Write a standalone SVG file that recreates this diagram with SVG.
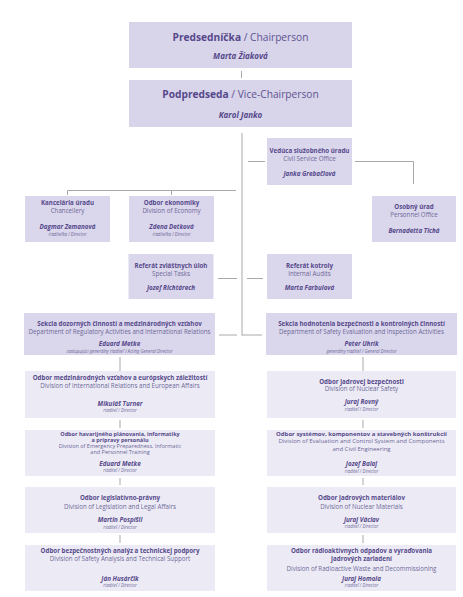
<svg xmlns="http://www.w3.org/2000/svg" width="463" height="597" viewBox="0 0 463 597">
<style>
text{font-family:"Open Sans","Noto Sans",sans-serif;text-anchor:middle;fill:#5e5391}
.bt{fill:#d8d4ea}
.bm{fill:#dad6eb}
.bc{fill:#ecebf5}
.h1{font-size:10.2px}
.b{font-weight:700;fill:#56498b}
.n1{font-size:8px;font-weight:700;font-style:italic;fill:#56498b}
.hb{font-size:6.2px;font-weight:700;fill:#56498b}
.hr{font-size:6.2px;fill:#6d6899}
.tb{font-size:5.5px;font-weight:700;fill:#56498b}
.tr{font-size:5.5px;fill:#6d6899}
.sb{font-size:6px;font-weight:700;fill:#56498b}
.sr{font-size:6px;fill:#6d6899}
.nm{font-size:6.3px;font-weight:700;font-style:italic;fill:#56498b}
.sm{font-size:4.4px;font-style:italic;fill:#6d6899}
#connectors line,#connectors path{stroke:#a9a9ad;stroke-width:1;fill:none}
</style>
<rect width="463" height="597" fill="#ffffff"/>
<g id="connectors">
<line x1="241.5" y1="71" x2="241.5" y2="78"/>
<line x1="242" y1="133" x2="242" y2="335.5"/>
<line x1="248" y1="161.5" x2="265" y2="161.5"/>
<path d="M355 161.5H413.5V184"/>
<path d="M67.5 195V190.5H236"/>
<line x1="171.5" y1="190.5" x2="171.5" y2="195"/>
<line x1="218" y1="278.5" x2="237" y2="278.5"/>
<line x1="247" y1="278.5" x2="263" y2="278.5"/>
<line x1="219" y1="335" x2="237" y2="335"/>
<line x1="242" y1="335" x2="262" y2="335"/>
<line x1="120" y1="357" x2="120" y2="371"/>
<line x1="120" y1="420" x2="120" y2="428"/>
<line x1="120" y1="478" x2="120" y2="485"/>
<line x1="120" y1="535" x2="120" y2="543"/>
<line x1="363" y1="357" x2="363" y2="371"/>
<line x1="363" y1="420" x2="363" y2="428"/>
<line x1="363" y1="478" x2="363" y2="485"/>
<line x1="363" y1="535" x2="363" y2="543"/>
</g>
<g id="chair">
<rect class="bt" x="129" y="22" width="223" height="46"/>
<text class="h1" x="240.5" y="41"><tspan class="b">Predsedníčka</tspan> / Chairperson</text>
<text class="n1" x="240.5" y="58.5">Marta Žiaková</text>
</g>
<g id="vice">
<rect class="bt" x="129" y="80" width="223" height="47"/>
<text class="h1" x="240.5" y="98"><tspan class="b">Podpredseda</tspan> / Vice-Chairperson</text>
<text class="n1" x="240.5" y="117.5">Karol Janko</text>
</g>
<g id="civil">
<rect class="bm" x="267" y="138" width="85" height="47"/>
<text class="hb" x="309.5" y="152.5">Vedúca služobného úradu</text>
<text class="hr" x="309.5" y="161">Civil Service Office</text>
<text class="nm" x="309.5" y="176">Janka Grebačiová</text>
</g>
<g id="chancellery">
<rect class="bm" x="25" y="196" width="85" height="46"/>
<text class="hb" x="67.5" y="205">Kancelária úradu</text>
<text class="hr" x="67.5" y="213.3">Chancellery</text>
<text class="nm" x="67.5" y="228.5">Dagmar Zemanová</text>
<text class="sm" x="67.5" y="236">riaditeľka / Director</text>
</g>
<g id="economy">
<rect class="bm" x="129" y="196" width="85" height="46"/>
<text class="hb" x="171.5" y="205">Odbor ekonomiky</text>
<text class="hr" x="171.5" y="213.3">Division of Economy</text>
<text class="nm" x="171.5" y="228.5">Zdena Detková</text>
<text class="sm" x="171.5" y="236">riaditeľka / Director</text>
</g>
<g id="personnel">
<rect class="bm" x="372" y="196" width="84" height="46"/>
<text class="hb" x="414" y="209">Osobný úrad</text>
<text class="hr" x="414" y="216.7">Personnel Office</text>
<text class="nm" x="414" y="232.5">Bernadetta Tichá</text>
</g>
<g id="special">
<rect class="bm" x="128.5" y="254" width="85" height="45"/>
<text class="hb" x="171" y="268.3">Referát zvláštnych úloh</text>
<text class="hr" x="171" y="275.5">Special Tasks</text>
<text class="nm" x="171" y="290">Jozef Richtárech</text>
</g>
<g id="audits">
<rect class="bm" x="267" y="254" width="85" height="45"/>
<text class="hb" x="309.5" y="268.3">Referát kotroly</text>
<text class="hr" x="309.5" y="275.5">Internal Audits</text>
<text class="nm" x="309.5" y="290">Marta Farbulová</text>
</g>
<g id="dept-left">
<rect class="bm" x="24" y="313" width="191" height="42"/>
<text class="hb" x="119.5" y="325.7">Sekcia dozorných činností a medzinárodných vzťahov</text>
<text class="hr" x="119.5" y="334">Department of Regulatory Activities and International Relations</text>
<text class="nm" x="119.5" y="346">Eduard Metke</text>
<text class="sm" x="119.5" y="352.7">zastupujúci generálny riaditeľ / Acting General Director</text>
</g>
<g id="dept-right">
<rect class="bm" x="266" y="313" width="191" height="42"/>
<text class="hb" x="361.5" y="325.7">Sekcia hodnotenia bezpečnosti a kontrolných činností</text>
<text class="hr" x="361.5" y="334">Department of Safety Evaluation and Inspection Activities</text>
<text class="nm" x="361.5" y="346">Peter Uhrík</text>
<text class="sm" x="361.5" y="352.7">generálny riaditeľ / General Director</text>
</g>
<g id="div-intl">
<rect class="bc" x="25" y="371" width="190" height="47"/>
<text class="hb" x="120" y="380">Odbor medzinárodných vzťahov a európskych záležitostí</text>
<text class="hr" x="120" y="388">Division of International Relations and European Affairs</text>
<text class="nm" x="120" y="406">Mikuláš Turner</text>
<text class="sm" x="120" y="412">riaditeľ / Director</text>
</g>
<g id="div-emergency">
<rect class="bc" x="25" y="430" width="190" height="46"/>
<text class="tb" x="120" y="435.6">Odbor havarijného plánovania, informatiky</text>
<text class="tb" x="120" y="441.6">a prípravy personálu</text>
<text class="tr" x="120" y="447.6">Division of Emergency Preparedness, Informatic</text>
<text class="tr" x="120" y="453.6">and Personnel Training</text>
<text class="nm" x="120" y="465.8">Eduard Metke</text>
<text class="sm" x="120" y="472">riaditeľ / Director</text>
</g>
<g id="div-legal">
<rect class="bc" x="25" y="487" width="190" height="46"/>
<text class="hb" x="120" y="500">Odbor legislatívno-právny</text>
<text class="hr" x="120" y="508.5">Division of Legislation and Legal Affairs</text>
<text class="nm" x="120" y="522">Martin Pospíšil</text>
<text class="sm" x="120" y="528.5">riaditeľ / Director</text>
</g>
<g id="div-analysis">
<rect class="bc" x="25" y="545" width="190" height="46"/>
<text class="hb" x="120" y="553">Odbor bezpečnostných analýz a technickej podpory</text>
<text class="hr" x="120" y="561">Division of Safety Analysis and Technical Support</text>
<text class="nm" x="120" y="580.5">Ján Husárčik</text>
<text class="sm" x="120" y="587">riaditeľ / Director</text>
</g>
<g id="div-nuclear-safety">
<rect class="bc" x="267" y="371" width="189" height="47"/>
<text class="hb" x="361.5" y="383.5">Odbor jadrovej bezpečnosti</text>
<text class="hr" x="361.5" y="391.3">Division of Nuclear Safety</text>
<text class="nm" x="361.5" y="404">Juraj Rovný</text>
<text class="sm" x="361.5" y="410.8">riaditeľ / Director</text>
</g>
<g id="div-systems">
<rect class="bc" x="267" y="430" width="189" height="46"/>
<text class="sb" x="361.5" y="435.5">Odbor systémov, komponentov a stavebných konštrukcií</text>
<text class="sr" x="361.5" y="443">Division of Evaluation and Control System and Components</text>
<text class="sr" x="361.5" y="450.5">and Civil Engineering</text>
<text class="nm" x="361.5" y="465.5">Jozef Balaj</text>
<text class="sm" x="361.5" y="472.5">riaditeľ / Director</text>
</g>
<g id="div-materials">
<rect class="bc" x="267" y="487" width="189" height="46"/>
<text class="hb" x="361.5" y="500">Odbor jadrových materiálov</text>
<text class="hr" x="361.5" y="508.5">Division of Nuclear Materials</text>
<text class="nm" x="361.5" y="522">Juraj Václav</text>
<text class="sm" x="361.5" y="528">riaditeľ / Director</text>
</g>
<g id="div-waste">
<rect class="bc" x="267" y="545" width="189" height="46"/>
<text class="hb" x="361.5" y="553">Odbor rádioaktívnych odpadov a vyraďovania</text>
<text class="hb" x="361.5" y="560.5">jadrových zariadení</text>
<text class="hr" x="361.5" y="570.5">Division of Radioactive Waste and Decommissioning</text>
<text class="nm" x="361.5" y="580.5">Juraj Homola</text>
<text class="sm" x="361.5" y="587">riaditeľ / Director</text>
</g>
</svg>
